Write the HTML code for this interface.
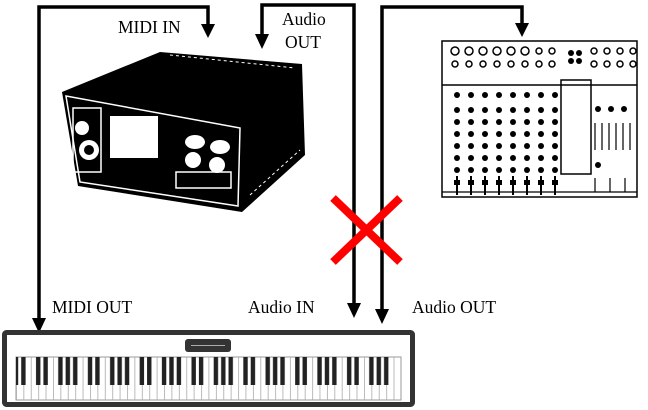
<!DOCTYPE html>
<html><head><meta charset="utf-8"><style>
body{margin:0;background:#fff;width:648px;height:410px;overflow:hidden}
svg{display:block}
text{font-family:"Liberation Serif",serif;font-size:17.5px;fill:#000}
</style></head><body>
<svg width="648" height="410" viewBox="0 0 648 410" xmlns="http://www.w3.org/2000/svg">
<defs>
<pattern id="wp" patternUnits="userSpaceOnUse" x="16" y="0" width="7.404" height="410">
<rect x="0" y="0" width="0.8" height="410" fill="#aaa"/>
</pattern>
<pattern id="bp" patternUnits="userSpaceOnUse" x="16" y="0" width="51.828" height="410">
<rect x="5.2" y="0" width="4.4" height="410" fill="#222"/>
<rect x="20.01" y="0" width="4.4" height="410" fill="#222"/>
<rect x="27.41" y="0" width="4.4" height="410" fill="#222"/>
<rect x="42.22" y="0" width="4.4" height="410" fill="#222"/>
<rect x="49.63" y="0" width="4.4" height="410" fill="#222"/>
<rect x="-2.2" y="0" width="4.4" height="410" fill="#222"/>
</pattern>
</defs>
<g stroke="#000" stroke-width="3.5" fill="none">
<polyline points="39,324 39,7 208,7 208,26"/>
<polyline points="262,36 262,5 354,5 354,306"/>
<polyline points="382,312 382,7 522,7 522,26"/>
</g>
<g fill="#000">
<polygon points="32,318 46,318 39,333"/>
<polygon points="201,24 215,24 208,38"/>
<polygon points="255,34 269,34 262,49"/>
<polygon points="347,303 361,303 354,318"/>
<polygon points="375,309 389,309 382,324"/>
<polygon points="515,23 529,23 522,37"/>
</g>
<text x="118" y="33">MIDI IN</text>
<text x="282" y="25">Audio</text>
<text x="285" y="48">OUT</text>
<text x="52" y="313">MIDI OUT</text>
<text x="248" y="313">Audio IN</text>
<text x="412" y="313">Audio OUT</text>
<!-- device -->
<polygon points="62,92 160,52 302,64 305,155 242,212 78,186" fill="#000"/>
<polygon points="66,96 240,128 238,206 80,182" fill="none" stroke="#fff" stroke-width="1.5"/>
<rect x="110" y="116" width="48" height="42" fill="#fff"/>
<rect x="73" y="108" width="28" height="64" fill="none" stroke="#fff" stroke-width="1.5"/>
<circle cx="89" cy="150" r="10" fill="#fff"/><circle cx="89" cy="150" r="5" fill="#000"/>
<circle cx="82" cy="128" r="7" fill="#fff"/>
<ellipse cx="195" cy="142" rx="10" ry="7" fill="#fff"/>
<ellipse cx="220" cy="147" rx="10" ry="7" fill="#fff"/>
<circle cx="193" cy="160" r="8" fill="#fff"/>
<circle cx="217" cy="165" r="8" fill="#fff"/>
<rect x="176" y="172" width="55" height="16" fill="none" stroke="#fff" stroke-width="1.5"/>
<g stroke="#fff" stroke-width="1" stroke-dasharray="3 3"><line x1="170" y1="55" x2="295" y2="68"/><line x1="250" y1="195" x2="300" y2="150"/></g>
<!-- mixer -->
<rect x="442" y="41" width="195" height="156" fill="#fff" stroke="#000" stroke-width="1.5"/>
<line x1="442" y1="85" x2="637" y2="85" stroke="#000" stroke-width="1.5"/>
<g fill="none" stroke="#000" stroke-width="1.5">
<circle cx="455" cy="51" r="4"/><circle cx="469" cy="51" r="4"/><circle cx="483" cy="51" r="4"/><circle cx="497" cy="51" r="4"/><circle cx="511" cy="51" r="4"/><circle cx="525" cy="51" r="4"/><circle cx="539" cy="51" r="3"/><circle cx="552" cy="51" r="3"/>
<circle cx="455" cy="64" r="3"/><circle cx="469" cy="64" r="3"/><circle cx="483" cy="64" r="3"/><circle cx="497" cy="64" r="3"/><circle cx="511" cy="64" r="3"/><circle cx="525" cy="64" r="3"/><circle cx="539" cy="64" r="3"/><circle cx="552" cy="64" r="3"/>
<circle cx="594" cy="51" r="3"/><circle cx="607" cy="51" r="3"/><circle cx="620" cy="51" r="3"/><circle cx="633" cy="51" r="3"/>
<circle cx="594" cy="64" r="3"/><circle cx="607" cy="64" r="3"/><circle cx="620" cy="64" r="3"/><circle cx="633" cy="64" r="3"/>
<rect x="561" y="80" width="30" height="94"/>
</g>
<g fill="#000">
<circle cx="571" cy="53" r="3"/><circle cx="579" cy="53" r="3"/><circle cx="571" cy="61" r="3"/><circle cx="579" cy="61" r="3"/>
</g>
<g fill="#000" id="col">
<circle cx="457" cy="95" r="3"/><circle cx="457" cy="110" r="3"/><circle cx="457" cy="122" r="3"/><circle cx="457" cy="134" r="3"/><circle cx="457" cy="146" r="3"/><circle cx="457" cy="158" r="3"/><circle cx="457" cy="170" r="3"/>
<rect x="456" y="176" width="2" height="19"/>
<rect x="454" y="180" width="6" height="5"/>
</g>
<g fill="#000">
<use href="#col" x="14"/><use href="#col" x="28"/><use href="#col" x="42"/><use href="#col" x="56"/><use href="#col" x="70"/><use href="#col" x="84"/><use href="#col" x="98"/>
<circle cx="598" cy="109" r="3"/><circle cx="611" cy="109" r="3"/><circle cx="624" cy="109" r="3"/>
<circle cx="598" cy="165" r="3"/>
</g>
<g stroke="#000" stroke-width="1.2">
<line x1="442" y1="192" x2="637" y2="192"/>
<line x1="595" y1="123" x2="595" y2="150"/><line x1="602" y1="123" x2="602" y2="150"/><line x1="609" y1="123" x2="609" y2="150"/><line x1="616" y1="123" x2="616" y2="150"/><line x1="623" y1="123" x2="623" y2="150"/><line x1="630" y1="123" x2="630" y2="150"/>
<line x1="610" y1="178" x2="610" y2="192"/><line x1="625" y1="178" x2="625" y2="192"/><line x1="595" y1="178" x2="595" y2="192"/>
</g>
<!-- red X -->
<g stroke="#f00" stroke-width="8">
<line x1="333" y1="198" x2="400" y2="262"/>
<line x1="400" y1="198" x2="333" y2="262"/>
</g>
<!-- keyboard -->
<rect x="4.5" y="332.5" width="408" height="72" rx="2" fill="#fff" stroke="#333" stroke-width="5"/>
<rect x="185" y="339" width="46" height="13" rx="3" fill="#333"/>
<line x1="191" y1="345.5" x2="225" y2="345.5" stroke="#aaa" stroke-width="1"/>
<rect x="16" y="357" width="385" height="43" fill="#fff" stroke="#999" stroke-width="1"/>
<rect x="16.5" y="357" width="384" height="43" fill="url(#wp)"/>
<rect x="16" y="357" width="382" height="28" fill="url(#bp)"/>
</svg>
</body></html>
